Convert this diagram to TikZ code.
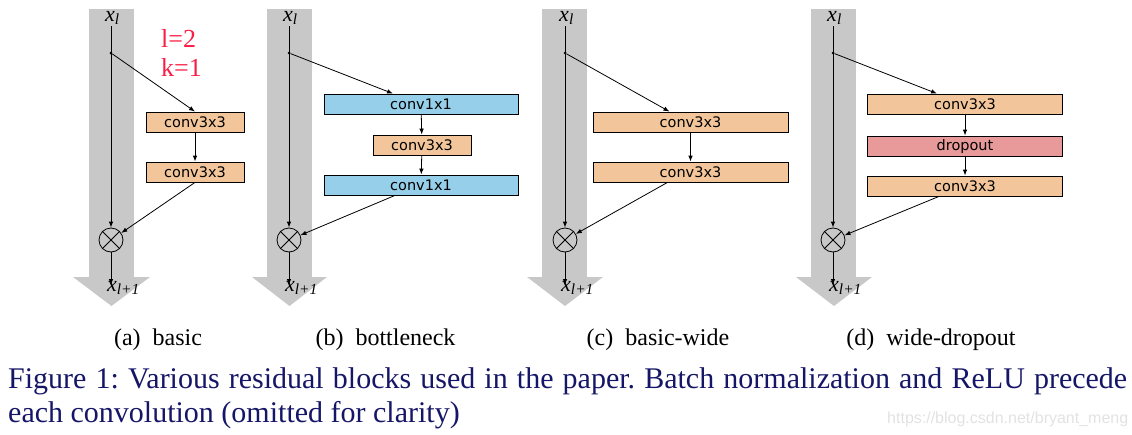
\documentclass[tikz,border=0pt]{standalone}
\usepackage{fontspec}
\usepackage{amsmath}
\usetikzlibrary{arrows.meta}
\setmainfont{Liberation Serif}
\newfontfamily\boxfont{DejaVu Sans}
\newfontfamily\markfont{Liberation Sans}
\definecolor{convorange}{RGB}{242,198,154}
\definecolor{convblue}{RGB}{150,207,233}
\definecolor{droppink}{RGB}{232,154,154}
\definecolor{skipgray}{RGB}{200,200,200}
\definecolor{capblue}{RGB}{22,22,104}
\definecolor{notered}{RGB}{250,30,70}
\definecolor{markgray}{RGB}{226,226,226}
\newcommand{\xvar}[1]{x\textsubscript{#1}}

\begin{document}
\frenchspacing
\begin{tikzpicture}[x=1pt, y=-1pt,
    box/.style={draw, line width=0.8pt, inner sep=0pt, minimum height=20pt,
        font=\boxfont\fontsize{14.5}{16}\selectfont},
    conv/.style={box, fill=convorange},
    bneck/.style={box, fill=convblue},
    drop/.style={box, fill=droppink},
    narrow/.style={minimum width=98pt},
    wide/.style={minimum width=195pt},
    sum/.style={circle, draw, line width=0.8pt, inner sep=0pt, minimum size=24pt},
    dot/.style={circle, fill, inner sep=0pt, minimum size=3pt},
    flow/.style={line width=0.8pt, -{Latex[length=6pt,width=4.5pt]}},
    var/.style={inner sep=1pt, font=\itshape\fontsize{22}{24}\selectfont},
    note/.style={anchor=west, inner sep=0pt, text=notered, font=\fontsize{26}{28}\selectfont},
    sub/.style={anchor=base, inner sep=0pt, font=\fontsize{24}{28}\selectfont}]
    \useasboundingbox (0,0) rectangle (1132,434);

    % Skip paths
    \fill[skipgray] (89,9) rectangle (134,277);
    \fill[skipgray] (73,277) -- (150,277) -- (111.5,306) -- cycle;
    \fill[skipgray] (267,9) rectangle (312,277);
    \fill[skipgray] (252,277) -- (327,277) -- (289.5,306) -- cycle;
    \fill[skipgray] (542,9) rectangle (587,277);
    \fill[skipgray] (527,277) -- (603,277) -- (565,306) -- cycle;
    \fill[skipgray] (811,9) rectangle (856,277);
    \fill[skipgray] (796,277) -- (872,277) -- (834,306) -- cycle;

    % (a) basic
    \node[var] (xa) at (112.5,18) {\xvar{l}};
    \node[dot] (da) at (111,53) {};
    \node[conv, narrow] (a1) at (195,122) {conv3x3};
    \node[conv, narrow] (a2) at (195,172) {conv3x3};
    \node[sum] (sa) at (111,240) {};
    \coordinate (ea) at (111,285);
    \node[var, anchor=west] (ya) at (106,288) {\xvar{l+1}};
    \node[note] (la) at (161,38) {l=2};
    \node[note] (ka) at (161,67) {k=1};

    \draw[flow] (xa.south -| da) -- (sa);
    \draw[flow] (da) -- (a1.north);
    \draw[flow] (a1) -- (a2);
    \draw[flow] (a2.south) -- (sa);
    \draw[flow] (sa) -- (ea);
    \draw[line width=0.8pt] (sa.north west) -- (sa.south east) (sa.north east) -- (sa.south west);

    % (b) bottleneck
    \node[var] (xb) at (290.5,18) {\xvar{l}};
    \node[dot] (db) at (289,53) {};
    \node[bneck, minimum width=194pt] (b1) at (421,104) {conv1x1};
    \node[conv, narrow] (b2) at (422,145) {conv3x3};
    \node[bneck, minimum width=194pt] (b3) at (421,185) {conv1x1};
    \node[sum] (sb) at (289,240) {};
    \coordinate (eb) at (289,285);
    \node[var, anchor=west] (yb) at (284,288) {\xvar{l+1}};

    \draw[flow] (xb.south -| db) -- (sb);
    \draw[flow] (db) -- ([xshift=-28pt]b1.north);
    \draw[flow] (b1) -- (b2);
    \draw[flow] (b2) -- (b3);
    \draw[flow] ([xshift=-26pt]b3.south) -- (sb);
    \draw[flow] (sb) -- (eb);
    \draw[line width=0.8pt] (sb.north west) -- (sb.south east) (sb.north east) -- (sb.south west);

    % (c) basic-wide
    \node[var] (xc) at (566.5,18) {\xvar{l}};
    \node[dot] (dc) at (565,53) {};
    \node[conv, wide] (c1) at (690.5,122) {conv3x3};
    \node[conv, wide] (c2) at (690.5,172) {conv3x3};
    \node[sum] (sc) at (565,240) {};
    \coordinate (ec) at (565,285);
    \node[var, anchor=west] (yc) at (560,288) {\xvar{l+1}};

    \draw[flow] (xc.south -| dc) -- (sc);
    \draw[flow] (dc) -- ([xshift=-21pt]c1.north);
    \draw[flow] (c1) -- (c2);
    \draw[flow] ([xshift=-23pt]c2.south) -- (sc);
    \draw[flow] (sc) -- (ec);
    \draw[line width=0.8pt] (sc.north west) -- (sc.south east) (sc.north east) -- (sc.south west);

    % (d) wide-dropout
    \node[var] (xd) at (834.5,18) {\xvar{l}};
    \node[dot] (dd) at (833,53) {};
    \node[conv, wide] (d1) at (965,104) {conv3x3};
    \node[drop, wide] (d2) at (965,146) {dropout};
    \node[conv, wide] (d3) at (965,186) {conv3x3};
    \node[sum] (sd) at (833,240) {};
    \coordinate (ed) at (833,285);
    \node[var, anchor=west] (yd) at (828,288) {\xvar{l+1}};

    \draw[flow] (xd.south -| dd) -- (sd);
    \draw[flow] (dd) -- ([xshift=-28pt]d1.north);
    \draw[flow] (d1) -- (d2);
    \draw[flow] (d2) -- (d3);
    \draw[flow] ([xshift=-26pt]d3.south) -- (sd);
    \draw[flow] (sd) -- (ed);
    \draw[line width=0.8pt] (sd.north west) -- (sd.south east) (sd.north east) -- (sd.south west);

    % Captions
    \node[sub] (capa) at (158,345) {(a)\enspace basic};
    \node[sub] (capb) at (385.5,345) {(b)\enspace bottleneck};
    \node[sub] (capc) at (658,345) {(c)\enspace basic-wide};
    \node[sub] (capd) at (931,345) {(d)\enspace wide-dropout};
    \node[anchor=north west, inner sep=0pt, text width=1119pt, align=justify, text=capblue,
        font=\fontsize{30}{34}\selectfont] (cap) at (8,367)
        {Figure 1: Various residual blocks used in the paper. Batch normalization and ReLU precede each convolution (omitted for clarity)};
    \node[anchor=base west, inner sep=0pt, text=markgray, font=\markfont\fontsize{16}{18}\selectfont]
        (mark) at (887,423) {https://blog.csdn.net/bryant\_meng};
\end{tikzpicture}
\end{document}
